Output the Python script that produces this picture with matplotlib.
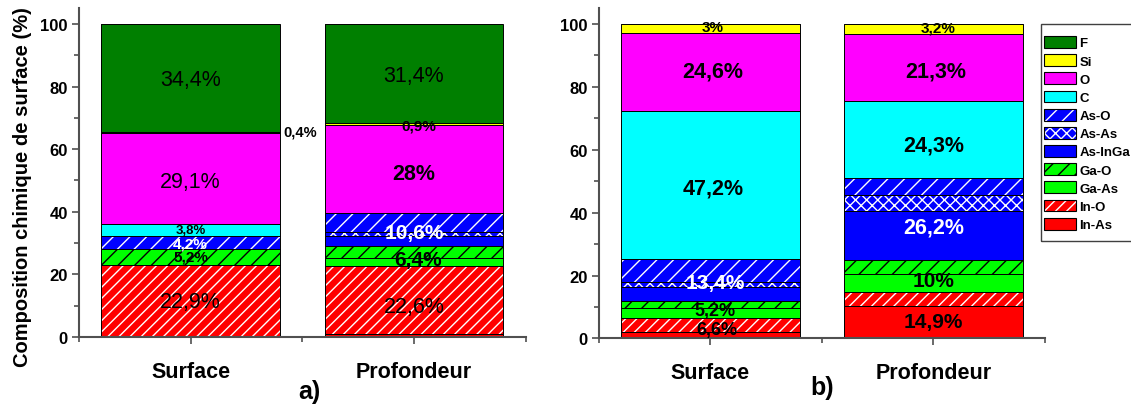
import matplotlib.pyplot as plt
from matplotlib.patches import Patch, Rectangle

plt.rcParams['font.family'] = ['Liberation Sans', 'DejaVu Sans']
plt.rcParams['hatch.linewidth'] = 1.0

categories = ['Surface', 'Profondeur']

# stacking order, bottom to top
species = ['In-As', 'In-O', 'Ga-As', 'Ga-O', 'As-InGa', 'As-As', 'As-O', 'C', 'O', 'Si', 'F']
colors = ['#ff0000', '#ff0000', '#00ff00', '#00ff00', '#0000ff', '#0000ff', '#0000ff',
          '#00ffff', '#ff00ff', '#ffff00', '#007f00']
hatches = [None, '///', None, '//', None, 'xxx', '//', None, None, None, None]
hatch_colors = ['none', 'white', 'none', 'black', 'none', 'white', 'white',
                'none', 'none', 'none', 'none']

# panel a)
a_in_as = [0.0, 0.8]
a_in_o = [22.9, 21.8]
a_ga_as = [0.0, 2.6]
a_ga_o = [5.2, 3.8]
a_as_inga = [0.0, 3.4]
a_as_as = [0.0, 1.2]
a_as_o = [4.2, 6.0]
a_c = [3.8, 0.0]
a_o = [29.1, 28.0]
a_si = [0.4, 0.9]
a_f = [34.4, 31.4]

# panel b)
b_in_as = [2.0, 10.4]
b_in_o = [4.6, 4.5]
b_ga_as = [3.1, 5.5]
b_ga_o = [2.1, 4.5]
b_as_inga = [4.6, 15.7]
b_as_as = [1.5, 5.1]
b_as_o = [7.3, 5.4]
b_c = [47.2, 24.3]
b_o = [24.6, 21.3]
b_si = [3.0, 3.2]
b_f = [0.0, 0.0]

# value labels: text, bar position, y, colour, size, weight
a_labels = [
    ('34,4%', 0, 82.4, 'black', 15.5, 'normal'),
    ('29,1%', 0, 49.6, 'black', 15.5, 'normal'),
    ('3,8%', 0, 34.3, 'black', 9.5, 'bold'),
    ('4,2%', 0, 30.0, 'white', 11, 'bold'),
    ('5,2%', 0, 25.6, 'black', 11, 'bold'),
    ('22,9%', 0, 11.2, 'black', 15.5, 'normal'),
    ('0,4%', 0.49, 65.8, 'black', 10.5, 'bold'),
    ('31,4%', 1, 83.4, 'black', 15.5, 'normal'),
    ('0,9%', 1.02, 67.7, 'black', 11, 'bold'),
    ('28%', 1, 52.1, 'black', 15.5, 'bold'),
    ('10,6%', 1, 33.5, 'white', 15, 'bold'),
    ('6,4%', 1.02, 24.6, 'black', 15, 'bold'),
    ('22,6%', 1, 9.9, 'black', 15.5, 'normal'),
]
b_labels = [
    ('3%', 0.01, 99.0, 'black', 11, 'bold'),
    ('24,6%', 0.01, 85.0, 'black', 15.5, 'bold'),
    ('47,2%', 0.01, 47.8, 'black', 15.5, 'bold'),
    ('13,4%', 0.02, 17.9, 'white', 15, 'bold'),
    ('5,2%', 0.02, 8.9, 'black', 13, 'bold'),
    ('6,6%', 0.03, 2.9, 'black', 13, 'bold'),
    ('3,2%', 1.02, 99.0, 'black', 11, 'bold'),
    ('21,3%', 1.01, 85.0, 'black', 15.5, 'bold'),
    ('24,3%', 1.0, 61.5, 'black', 15.5, 'bold'),
    ('26,2%', 1.0, 35.4, 'white', 15.5, 'bold'),
    ('10%', 1.0, 18.5, 'black', 15, 'bold'),
    ('14,9%', 1.0, 5.5, 'black', 15, 'bold'),
]

a_data = [a_in_as, a_in_o, a_ga_as, a_ga_o, a_as_inga, a_as_as, a_as_o, a_c, a_o, a_si, a_f]
b_data = [b_in_as, b_in_o, b_ga_as, b_ga_o, b_as_inga, b_as_as, b_as_o, b_c, b_o, b_si, b_f]

spine_col = '#505050'


def draw_panel(ax, data, labels):
    x = range(len(categories))
    bottom = [0.0] * len(categories)
    for vals, fc, h, hc in zip(data, colors, hatches, hatch_colors):
        if h:
            ax.bar(x, vals, 0.8, bottom=bottom, color=fc, edgecolor=hc, hatch=h, linewidth=0)
        else:
            ax.bar(x, vals, 0.8, bottom=bottom, color=fc, linewidth=0)
        ax.bar(x, vals, 0.8, bottom=bottom, fill=False, edgecolor='black', linewidth=0.7)
        bottom = [b + v for b, v in zip(bottom, vals)]

    for txt, xp, yp, c, s, w in labels:
        ax.text(xp, yp, txt, ha='center', va='center', color=c, fontsize=s, fontweight=w)

    ax.set_xlim(-0.5, 1.5)
    ax.set_ylim(0, 105)
    ax.set_xticks([0, 1])
    ax.set_xticklabels(categories, fontsize=15.5, fontweight='bold')
    ax.set_xticks([-0.5, 0.5, 1.5], minor=True)
    ax.set_yticks([0, 20, 40, 60, 80, 100])
    ax.set_yticks([10, 30, 50, 70, 90], minor=True)
    for lab in ax.get_yticklabels():
        lab.set_fontweight('bold')
        lab.set_fontsize(12)
    ax.tick_params(which='both', direction='out', color=spine_col, width=1.2)
    ax.tick_params(which='major', length=5, pad=3)
    ax.tick_params(which='minor', length=3.5)
    ax.tick_params(axis='x', which='major', pad=12)
    for side in ['top', 'right']:
        ax.spines[side].set_visible(False)
    for side in ['left', 'bottom']:
        ax.spines[side].set_color(spine_col)
        ax.spines[side].set_linewidth(1.5)


fig = plt.figure(figsize=(11.31, 4.06), dpi=100)
ax1 = fig.add_axes([0.0698, 0.1675, 0.395, 0.8095])
ax2 = fig.add_axes([0.5296, 0.164, 0.3943, 0.813])

draw_panel(ax1, a_data, a_labels)
draw_panel(ax2, b_data, b_labels)

ax1.set_ylabel('Composition chimique de surface (%)', fontsize=14.5, fontweight='bold', labelpad=1)
ax1.yaxis.set_label_coords(-0.105, 0.46)

fig.text(309 / 1131, 1 - 392 / 406, 'a)', ha='center', va='center', fontsize=18, fontweight='bold')
fig.text(822 / 1131, 1 - 388 / 406, 'b)', ha='center', va='center', fontsize=18, fontweight='bold')

# legend box runs off the right edge of the figure
W, H = 1131, 406
fig.patches.append(Rectangle((1041 / W, 1 - 242 / H), 100 / W, 217 / H,
                             transform=fig.transFigure, fill=False,
                             edgecolor='#404040', linewidth=1.0))

# legend, top entry first
handles = []
for fc, h, hc in zip(colors[::-1], hatches[::-1], hatch_colors[::-1]):
    if h:
        base = Patch(facecolor=fc, edgecolor=hc, hatch=h, linewidth=0)
    else:
        base = Patch(facecolor=fc, linewidth=0)
    frame = Patch(fill=False, edgecolor='black', linewidth=0.8)
    handles.append((base, frame))

fig.legend(handles, species[::-1], loc='upper left',
           bbox_to_anchor=(1044 / W, 1 - 37 / H), borderaxespad=0, borderpad=0,
           frameon=False, prop={'weight': 'bold', 'size': 9.5},
           handlelength=2.4, handleheight=1.0, labelspacing=0.36,
           handletextpad=0.3)

fig.savefig('out.png', dpi=100)
